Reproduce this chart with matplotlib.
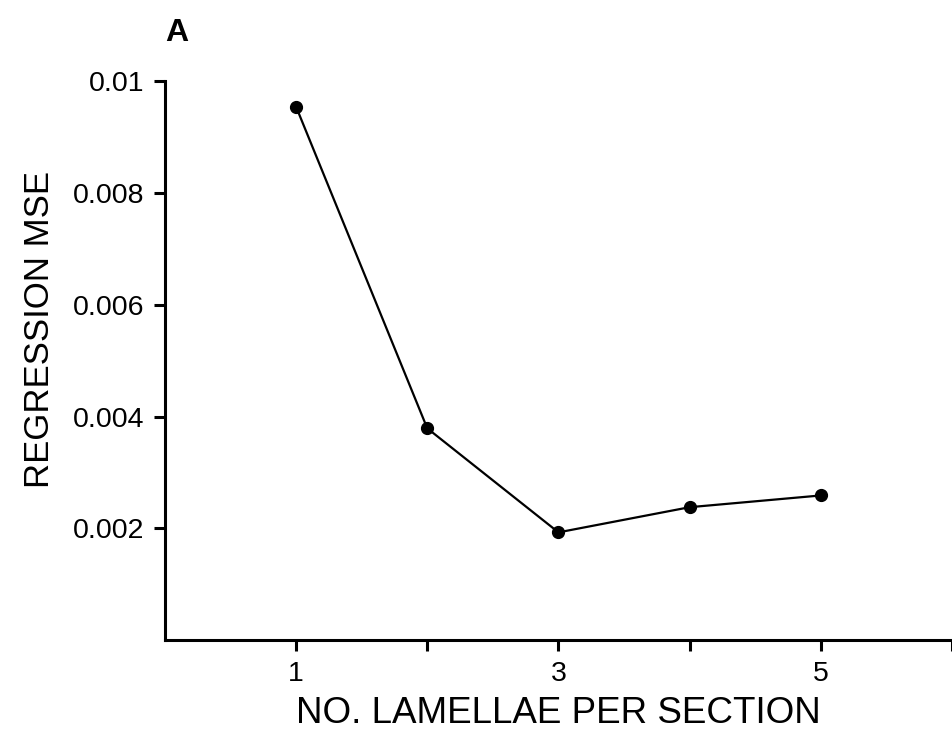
import matplotlib.pyplot as plt
from matplotlib.ticker import FixedLocator, FixedFormatter

# Regressionsfehler je Anzahl Lamellen pro Schnitt
lamellae = [1, 2, 3, 4, 5]
mse = [0.00954, 0.00379, 0.00193, 0.00238, 0.00259]

ytick_vals = [0.002, 0.004, 0.006, 0.008, 0.01]
ytick_labels = ["0.002", "0.004", "0.006", "0.008", "0.01"]
xtick_vals = [1, 2, 3, 4, 5, 6]
xtick_labels = ["1", "", "3", "", "5", ""]

plt.rcParams['font.family'] = ['Liberation Sans', 'DejaVu Sans']

fig = plt.figure(figsize=(9.53, 7.36), dpi=100)
ax = fig.add_axes([0.173, 0.130, 0.826, 0.760])

ax.plot(lamellae, mse, "k-", lw=1.6, marker="o", markersize=8.5, clip_on=False)

ax.set_xlim(0, 6)
ax.set_ylim(0, 0.01)

ax.xaxis.set_major_locator(FixedLocator(xtick_vals))
ax.xaxis.set_major_formatter(FixedFormatter(xtick_labels))
ax.yaxis.set_major_locator(FixedLocator(ytick_vals))
ax.yaxis.set_major_formatter(FixedFormatter(ytick_labels))

# nur linke und untere Achse, dick wie im Druck
for side in ["top", "right"]:
    ax.spines[side].set_visible(False)
for side in ["left", "bottom"]:
    ax.spines[side].set_linewidth(2.2)
ax.tick_params(axis="both", direction="out", length=8, width=2.2, labelsize=20.5, pad=7)

ax.set_xlabel("NO. LAMELLAE PER SECTION", fontsize=26.5)
ax.xaxis.label.set_verticalalignment("baseline")
ax.xaxis.set_label_coords(0.5, -0.148)

ax.set_ylabel("REGRESSION MSE", fontsize=25)
ax.yaxis.label.set_verticalalignment("center")
ax.yaxis.set_label_coords(-0.159, 0.555)

fig.text(0.173, 0.955, "A", fontsize=23, fontweight="bold", va="center")

fig.savefig("out.png", dpi=100)
